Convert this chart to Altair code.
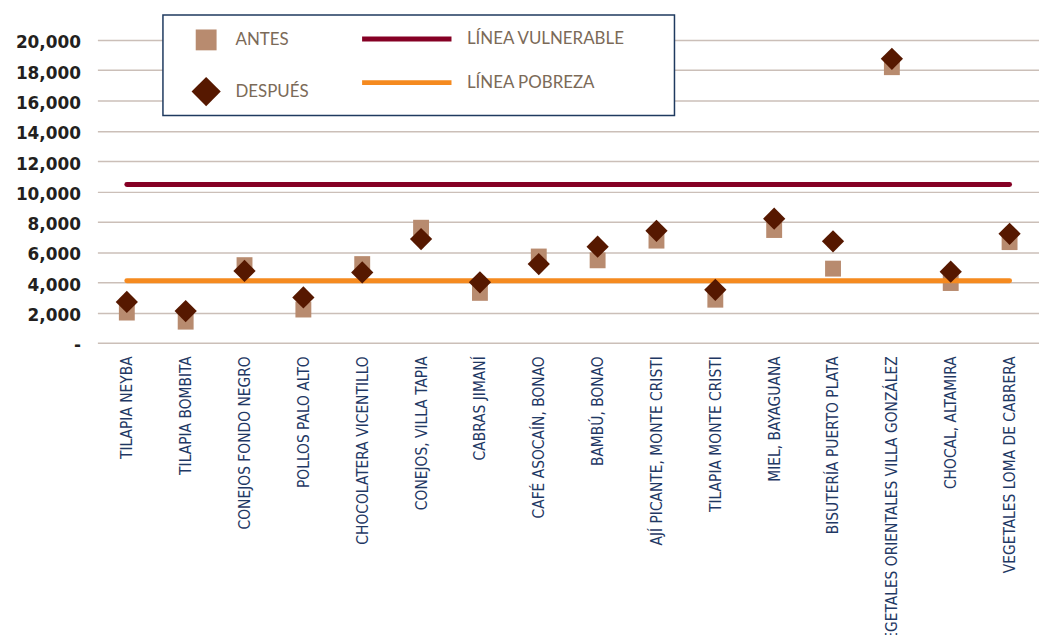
import altair as alt
import pandas as pd

categorias = [
    "TILAPIA NEYBA", "TILAPIA BOMBITA", "CONEJOS FONDO NEGRO", "POLLOS PALO ALTO",
    "CHOCOLATERA VICENTILLO", "CONEJOS, VILLA TAPIA", "CABRAS JIMANÍ", "CAFÉ ASOCAÍN, BONAO",
    "BAMBÚ, BONAO", "AJÍ PICANTE, MONTE CRISTI", "TILAPIA MONTE CRISTI", "MIEL, BAYAGUANA",
    "BISUTERÍA PUERTO PLATA", "VEGETALES ORIENTALES VILLA GONZÁLEZ", "CHOCAL, ALTAMIRA",
    "VEGETALES LOMA DE CABRERA",
]
antes = [2000, 1400, 5130, 2200, 5200, 7600, 3300, 5700, 5450, 6750, 2850, 7450, 4900, 18200, 3950, 6650]
despues = [2700, 2100, 4750, 3000, 4650, 6850, 4000, 5200, 6350, 7400, 3500, 8200, 6700, 18750, 4700, 7200]
linea_vulnerable = 10450
linea_pobreza = 4100

series = ["ANTES", "DESPUÉS"]
lineas = ["LÍNEA VULNERABLE", "LÍNEA POBREZA"]
y_ticks = [0, 2000, 4000, 6000, 8000, 10000, 12000, 14000, 16000, 18000, 20000]

n = len(categorias)
pts = pd.DataFrame({
    "cat": categorias * 2,
    "serie": [series[0]] * n + [series[1]] * n,
    "valor": antes + despues,
})
lin = pd.DataFrame({
    "cat": categorias * 2,
    "linea": [lineas[0]] * n + [lineas[1]] * n,
    "valor": [linea_vulnerable] * n + [linea_pobreza] * n,
})

x_enc = alt.X(
    "cat:N",
    sort=categorias,
    scale=alt.Scale(type="point", domain=categorias, padding=0.5),
    axis=alt.Axis(
        title=None, labelAngle=-90, labelAlign="right", labelBaseline="middle",
        labelPadding=13, labelFont="Liberation Sans Narrow, DejaVu Sans Condensed, sans-serif",
        labelFontSize=15.5, labelColor="#1f3864", ticks=False, domain=False, grid=False,
        labelLimit=400,
    ),
)
y_enc = alt.Y(
    "valor:Q",
    scale=alt.Scale(domain=[0, 20000], nice=False),
    axis=alt.Axis(
        title=None, values=y_ticks,
        labelExpr="datum.value == 0 ? '-' : format(datum.value, ',')",
        labelFont="DejaVu Sans", labelFontWeight="bold", labelFontSize=17,
        labelColor="#231f20", labelPadding=17, labelOffset=3,
        domain=False, ticks=False, gridColor="#cbbfb8", gridWidth=1.5,
    ),
)

diamante = "M-1.4,0L0,-1.4L1.4,0L0,1.4Z"

leg_pts = alt.Legend(
    title=None, orient="none", legendX=99, legendY=-10.5, direction="vertical",
    labelFont="Lato", labelFontSize=17, labelColor="#7b6a58", labelOffset=19,
    rowPadding=26, padding=0, symbolStrokeWidth=0, symbolOpacity=1, symbolSize=441,
)
fill_enc = alt.Fill("serie:N", scale=alt.Scale(domain=series, range=["#b88b6f", "#561800"]), legend=leg_pts)
shape_enc = alt.Shape("serie:N", scale=alt.Scale(domain=series, range=["square", diamante]), legend=leg_pts)

base_pts = alt.Chart(pts).mark_point(filled=True, opacity=1, strokeWidth=0, size=256).encode(
    x=x_enc, y=y_enc, fill=fill_enc, shape=shape_enc
)
capa_antes = base_pts.transform_filter(alt.datum.serie == series[0])
capa_despues = base_pts.transform_filter(alt.datum.serie == series[1])

leg_lin = alt.Legend(
    title=None, orient="none", legendX=299, legendY=-13.5, direction="vertical",
    symbolType="M-4.5,0L4.5,0", symbolSize=400, symbolStrokeWidth=5, labelOffset=48,
    rowPadding=21, padding=0, labelFont="Lato", labelFontSize=17, labelColor="#7b6a58",
)
capa_lineas = alt.Chart(lin).mark_line(strokeWidth=5, strokeCap="round").encode(
    x=x_enc, y=y_enc,
    stroke=alt.Stroke("linea:N", scale=alt.Scale(domain=lineas, range=["#850024", "#f58a1f"]), legend=leg_lin),
)

caja = alt.Chart(pd.DataFrame({"k": [0]})).mark_rect(
    fill="white", stroke="#1f3a5f", strokeWidth=1.5
).encode(x=alt.value(66), x2=alt.value(581), y=alt.value(-25), y2=alt.value(76))

chart = alt.layer(caja, capa_antes, capa_lineas, capa_despues).properties(
    width=948, height=305,
    padding={"left": 90, "top": 30, "right": 0, "bottom": 292},
    autosize=alt.AutoSizeParams(type="none"),
).configure_view(stroke=None)

chart.save("out.html", embed_options={"renderer": "svg", "actions": False})
